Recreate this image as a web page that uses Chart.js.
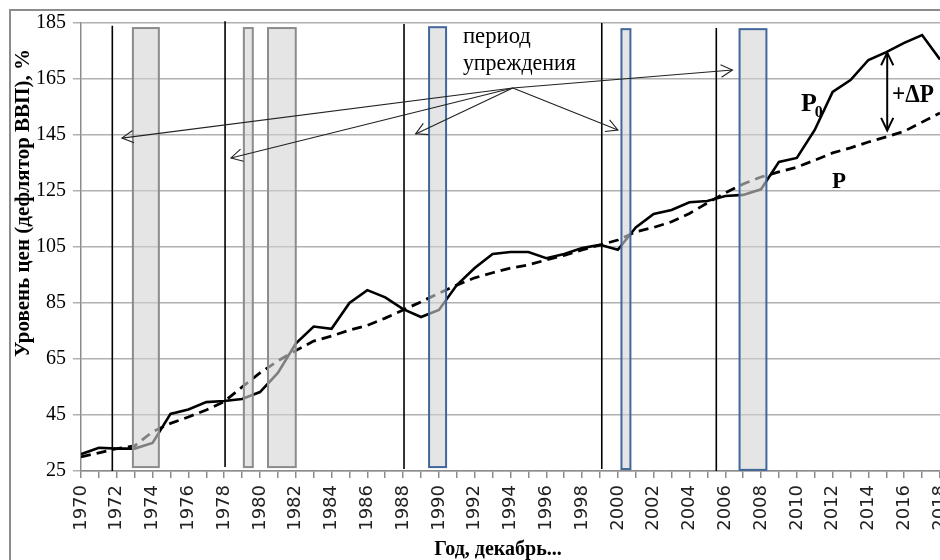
<!DOCTYPE html>
<html>
<head>
<meta charset="utf-8">
<script src="https://cdn.jsdelivr.net/npm/chart.js@4.4.1/dist/chart.umd.min.js"></script>
<style>
  html, body { margin: 0; padding: 0; background: #fff; }
  #wrap { width: 940px; height: 560px; overflow: hidden; position: relative; }
  canvas { display: block; }
</style>
</head>
<body>
<div id="wrap"><canvas id="priceChart" width="960" height="560"></canvas></div>
<script>
// Years on the x axis
const years = [
  1970, 1971, 1972, 1973, 1974, 1975, 1976, 1977, 1978, 1979,
  1980, 1981, 1982, 1983, 1984, 1985, 1986, 1987, 1988, 1989,
  1990, 1991, 1992, 1993, 1994, 1995, 1996, 1997, 1998, 1999,
  2000, 2001, 2002, 2003, 2004, 2005, 2006, 2007, 2008, 2009,
  2010, 2011, 2012, 2013, 2014, 2015, 2016, 2017, 2018,
];

// P0 - actual price level (solid line)
const priceActual = [
  31, 33.3, 33, 33, 35, 45.4, 47, 49.6, 50, 50.7,
  53.2, 60, 70.5, 76.6, 75.8, 85, 89.6, 87, 82.8, 80,
  82.5, 91.4, 97.5, 102.5, 103.2, 103.2, 101, 102.5, 104.6, 105.8,
  104, 112, 116.8, 118.2, 121, 121.4, 123.2, 123.6, 125.6, 135.4,
  136.8, 146.8, 160.4, 164.6, 171.8, 174.6, 177.9, 180.7, 172,
];

// P - trend price level (dashed line)
const priceTrend = [
  30, 31.5, 33, 34, 39, 42, 44.3, 46.8, 49.8, 55,
  60, 64.3, 68, 71.4, 73.2, 75.3, 77, 79.6, 82.5, 85.4,
  88.5, 91.4, 94, 95.8, 97.5, 98.6, 100.4, 102, 104, 105.7,
  107.5, 110.4, 112, 114, 117, 120.7, 124.3, 127.5, 130, 131.8,
  133.5, 136, 138.6, 140.4, 142.5, 144.3, 146.3, 149.6, 152.9,
];

// Y axis ticks
const yMin = 25;
const yMax = 185;
const yStep = 20;

// Shaded periods (gray border) and (blue border)
const grayBandStart = [1972.9, 1979.1, 1980.45];
const grayBandEnd = [1974.35, 1979.6, 1982.0];
const grayBandTop = [183.2, 183.2, 183.2];
const grayBandBottom = [26.4, 26.4, 26.4];

const blueBandStart = [1989.45, 2000.2, 2006.8];
const blueBandEnd = [1990.4, 2000.7, 2008.3];
const blueBandTop = [183.5, 182.8, 182.8];
const blueBandBottom = [26.4, 25.7, 25.4];

// Vertical black lines
const leadLineYears = [1971.75, 1978.05, 1988.05, 1999.1, 2005.5];
const leadLineTop = [184, 185.6, 184.6, 185, 183.2];
const leadLineBottom = [25, 26.4, 25.7, 25.7, 25];

// "период упреждения" arrows: origin and targets
const arrowOriginYear = 1994.13;
const arrowOriginValue = 161.8;
const arrowTargetYears = [1972.29, 1978.38, 1988.7, 2000.0, 2006.4];
const arrowTargetValues = [143.9, 136.8, 145.4, 146.8, 168.2];

// +dP double arrow
const deltaYear = 2015.05;
const deltaTop = 174.4;
const deltaBottom = 146.6;

const actualPoints = years.map((y, i) => ({ x: y, y: priceActual[i] }));
const trendPoints = years.map((y, i) => ({ x: y, y: priceTrend[i] }));

// open "V" arrow head at (toX, toY)
function drawArrowHead(ctx, fromX, fromY, toX, toY, len, angle) {
  const a = Math.atan2(toY - fromY, toX - fromX);
  ctx.beginPath();
  ctx.moveTo(toX - len * Math.cos(a - angle), toY - len * Math.sin(a - angle));
  ctx.lineTo(toX, toY);
  ctx.lineTo(toX - len * Math.cos(a + angle), toY - len * Math.sin(a + angle));
  ctx.stroke();
}

function drawBands(ctx, px, py, starts, ends, tops, bottoms, borderColor) {
  for (let i = 0; i < starts.length; i++) {
    const x1 = px(starts[i]);
    const x2 = px(ends[i]);
    const y1 = py(tops[i]);
    const y2 = py(bottoms[i]);
    ctx.fillStyle = "rgba(212, 212, 212, 0.6)";
    ctx.fillRect(x1, y1, x2 - x1, y2 - y1);
    ctx.strokeStyle = borderColor;
    ctx.lineWidth = 2;
    ctx.strokeRect(x1, y1, x2 - x1, y2 - y1);
  }
}

const overlayPlugin = {
  id: "overlays",
  beforeDraw(chart) {
    const ctx = chart.ctx;
    ctx.save();
    // outer frame (left and top edges)
    ctx.strokeStyle = "#8c8c8c";
    ctx.lineWidth = 2;
    ctx.beginPath();
    ctx.moveTo(10, 560);
    ctx.lineTo(10, 10);
    ctx.lineTo(chart.width, 10);
    ctx.stroke();
    ctx.restore();
  },
  afterDatasetsDraw(chart) {
    const ctx = chart.ctx;
    const px = (v) => chart.scales.x.getPixelForValue(v);
    const py = (v) => chart.scales.y.getPixelForValue(v);
    ctx.save();

    drawBands(ctx, px, py, grayBandStart, grayBandEnd, grayBandTop, grayBandBottom, "#8c8c8c");
    drawBands(ctx, px, py, blueBandStart, blueBandEnd, blueBandTop, blueBandBottom, "#41679b");

    // vertical lines
    ctx.strokeStyle = "#000";
    ctx.lineWidth = 1.6;
    leadLineYears.forEach((yr, i) => {
      ctx.beginPath();
      ctx.moveTo(px(yr), py(leadLineTop[i]));
      ctx.lineTo(px(yr), py(leadLineBottom[i]));
      ctx.stroke();
    });

    // arrows from the "период упреждения" label
    const ox = px(arrowOriginYear);
    const oy = py(arrowOriginValue);
    ctx.strokeStyle = "#222";
    ctx.lineWidth = 1.1;
    arrowTargetYears.forEach((yr, i) => {
      const tx = px(yr);
      const ty = py(arrowTargetValues[i]);
      ctx.beginPath();
      ctx.moveTo(ox, oy);
      ctx.lineTo(tx, ty);
      ctx.stroke();
      drawArrowHead(ctx, ox, oy, tx, ty, 13, 0.5);
    });

    // +dP double arrow
    const dx = px(deltaYear);
    const dTop = py(deltaTop);
    const dBottom = py(deltaBottom);
    ctx.strokeStyle = "#000";
    ctx.lineWidth = 2;
    ctx.beginPath();
    ctx.moveTo(dx, dTop);
    ctx.lineTo(dx, dBottom);
    ctx.stroke();
    drawArrowHead(ctx, dx, dBottom, dx, dTop, 14, 0.45);
    drawArrowHead(ctx, dx, dTop, dx, dBottom, 14, 0.45);

    // text labels
    ctx.fillStyle = "#000";
    ctx.textAlign = "left";
    ctx.textBaseline = "alphabetic";
    ctx.font = "24px 'Liberation Serif', serif";
    ctx.fillText("период", px(1991.34), py(177.9), 68);
    ctx.fillText("упреждения", px(1991.34), py(168.2), 113);

    ctx.font = "bold 26px 'Liberation Serif', serif";
    ctx.fillText("P", px(2010.23), py(153.6));
    ctx.font = "bold 16px 'Liberation Serif', serif";
    ctx.fillText("0", px(2011.0), py(151.4));

    ctx.font = "bold 25px 'Liberation Serif', serif";
    ctx.fillText("+\u0394P", px(2015.32), py(156.8), 42);

    ctx.font = "bold 23px 'Liberation Serif', serif";
    ctx.fillText("P", px(2011.96), py(126.1));
    ctx.restore();
  },
  afterDraw(chart) {
    const ctx = chart.ctx;
    ctx.save();
    ctx.fillStyle = "#000";
    ctx.textAlign = "center";
    ctx.textBaseline = "middle";
    // y axis title
    ctx.translate(24, 203);
    ctx.rotate(-Math.PI / 2);
    ctx.font = "bold 21px 'Liberation Serif', serif";
    ctx.fillText("Уровень цен (дефлятор ВВП), %", 0, 0, 326);
    ctx.restore();

    // x axis title
    ctx.save();
    ctx.fillStyle = "#000";
    ctx.textAlign = "center";
    ctx.textBaseline = "alphabetic";
    ctx.font = "bold 20px 'Liberation Serif', serif";
    ctx.fillText("Год, декабрь...", 498, 555);
    ctx.restore();
  },
};

const ctx = document.getElementById("priceChart").getContext("2d");

const priceChart = new Chart(ctx, {
  type: "line",
  data: {
    datasets: [
      {
        label: "P",
        data: trendPoints,
        borderColor: "#000",
        borderWidth: 2.8,
        borderDash: [10, 6],
        pointRadius: 0,
        tension: 0,
        order: 1,
      },
      {
        label: "P0",
        data: actualPoints,
        borderColor: "#000",
        borderWidth: 2.6,
        pointRadius: 0,
        tension: 0,
        order: 2,
      },
    ],
  },
  options: {
    responsive: false,
    animation: false,
    layout: { padding: { left: 10, top: 23, right: 20, bottom: 0 } },
    plugins: {
      legend: { display: false },
      tooltip: { enabled: false },
    },
    scales: {
      x: {
        type: "linear",
        min: years[0],
        max: years[years.length - 1],
        ticks: {
          stepSize: 1,
          autoSkip: false,
          maxRotation: 90,
          minRotation: 90,
          padding: 7,
          color: "#222",
          font: { family: "DejaVu Sans", size: 18 },
          callback: (v) => (v % 2 === 0 ? String(v) : ""),
        },
        grid: {
          drawOnChartArea: false,
          drawTicks: true,
          tickLength: 7,
          color: "#8c8c8c",
          lineWidth: 1.5,
        },
        border: { color: "#8c8c8c", width: 1.5 },
        afterFit(scale) {
          scale.height = 89;
          scale.paddingLeft = 0;
          scale.paddingRight = 0;
        },
      },
      y: {
        min: yMin,
        max: yMax,
        ticks: {
          stepSize: yStep,
          padding: 7,
          color: "#000",
          font: { family: "Liberation Serif", size: 20 },
        },
        grid: { color: "#b0b0b0", lineWidth: 1.5, tickLength: 8 },
        border: { color: "#8c8c8c", width: 1.5 },
        afterFit(scale) {
          scale.width = 71;
          scale.paddingTop = 0;
          scale.paddingBottom = 0;
        },
      },
    },
  },
  plugins: [overlayPlugin],
});
</script>
</body>
</html>
